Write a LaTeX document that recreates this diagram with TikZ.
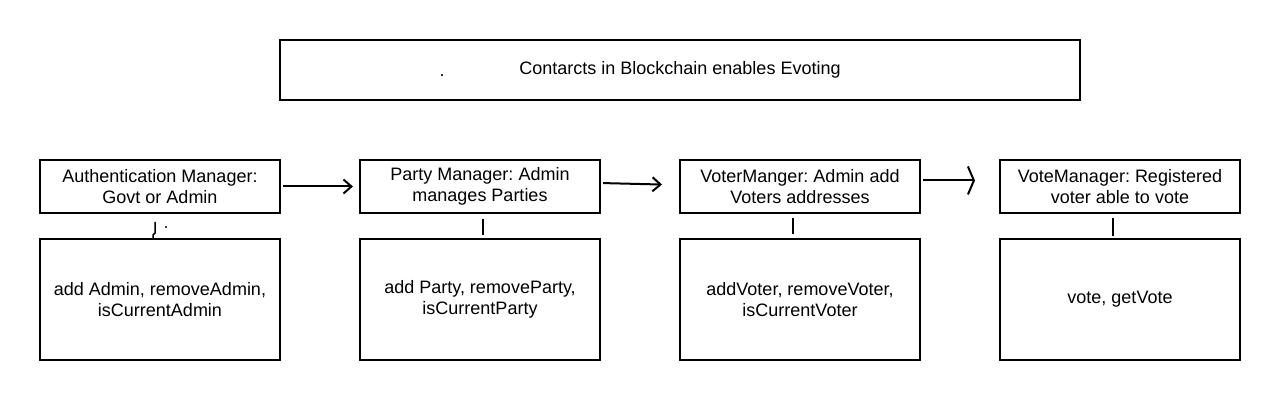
\documentclass[tikz,border=0pt]{standalone}
\usepackage{fontspec}
\setmainfont{Liberation Sans}
\frenchspacing
\usetikzlibrary{arrows.meta,positioning}
\tikzstyle{ManagerNode}=[draw,rectangle,line width=1pt,outer sep=0pt,minimum width=120pt,minimum height=26.5pt,inner sep=2pt,align=center,font=\fontsize{9}{10.5}\selectfont]
\tikzstyle{FunctionNode}=[ManagerNode,minimum height=60.5pt]
\tikzstyle{TitleBox}=[ManagerNode,minimum width=400pt,minimum height=30pt]
\tikzstyle{FlowArrow}=[line width=1pt,-{Straight Barb[length=4pt,width=7pt,line width=1pt]}]
\tikzstyle{LinkLine}=[line width=0.75pt]

\begin{document}
\begin{tikzpicture}[x=0.5pt,y=-0.5pt]
  \useasboundingbox (0,0) rectangle (1280,400);
  \node[TitleBox](TitleNode) at (680,70){Contarcts in Blockchain enables Evoting};
  \node[inner sep=0pt,anchor=base,font=\fontsize{9}{10.5}\selectfont](TitleDot) at (442,77){.};

  \node[ManagerNode](Authentication-Manager) at (160,186.5){Authentication Manager:\\Govt or Admin};
  \node[ManagerNode,right=40pt of Authentication-Manager](Party-Manager){Party Manager: Admin\\manages Parties};
  \node[ManagerNode,right=40pt of Party-Manager](Voter-Manager){VoterManger: Admin add\\Voters addresses};
  \node[ManagerNode,right=40pt of Voter-Manager](Vote-Manager){VoteManager: Registered\\voter able to vote};

  \node[FunctionNode,below=13pt of Authentication-Manager](Admin-Functions){add Admin, removeAdmin,\\isCurrentAdmin};
  \node[FunctionNode,below=13pt of Party-Manager](Party-Functions){add Party, removeParty,\\isCurrentParty};
  \node[FunctionNode,below=13pt of Voter-Manager](Voter-Functions){addVoter, removeVoter,\\isCurrentVoter};
  \node[FunctionNode,below=13pt of Vote-Manager](Vote-Functions){vote, getVote};

  \draw[FlowArrow,shorten <=1.5pt,shorten >=3.5pt](Authentication-Manager) -- (Party-Manager);
  \draw[FlowArrow,shorten <=1.5pt,shorten >=9pt]([yshift=1.75pt]Party-Manager.east) -- ([yshift=0.75pt]Voter-Manager.west);
  \draw[line width=1pt,-{Straight Barb[length=3pt,width=14pt,line width=1pt]},shorten <=1.5pt,shorten >=12.5pt]([yshift=3pt]Voter-Manager.east) -- ([yshift=3pt]Vote-Manager.west);

  \coordinate (Admin-Link) at (155,222);
  \draw[LinkLine] (Admin-Link) -- ++(0,11) -- ++(-2,2) -- ([xshift=-3.5pt]Admin-Functions.north);
  \node[circle,fill,inner sep=0.4pt](Stray-Dot) at (166,227){};
  \draw[LinkLine,shorten <=3pt,shorten >=2pt]([xshift=1.5pt]Party-Manager.south) -- ([xshift=1.5pt]Party-Functions.north);
  \draw[LinkLine,shorten <=2.5pt,shorten >=2.5pt]([xshift=-3.5pt]Voter-Manager.south) -- ([xshift=-3.5pt]Voter-Functions.north);
  \draw[LinkLine,shorten <=2.5pt,shorten >=1.5pt]([xshift=-3.5pt]Vote-Manager.south) -- ([xshift=-3.5pt]Vote-Functions.north);
\end{tikzpicture}
\end{document}
